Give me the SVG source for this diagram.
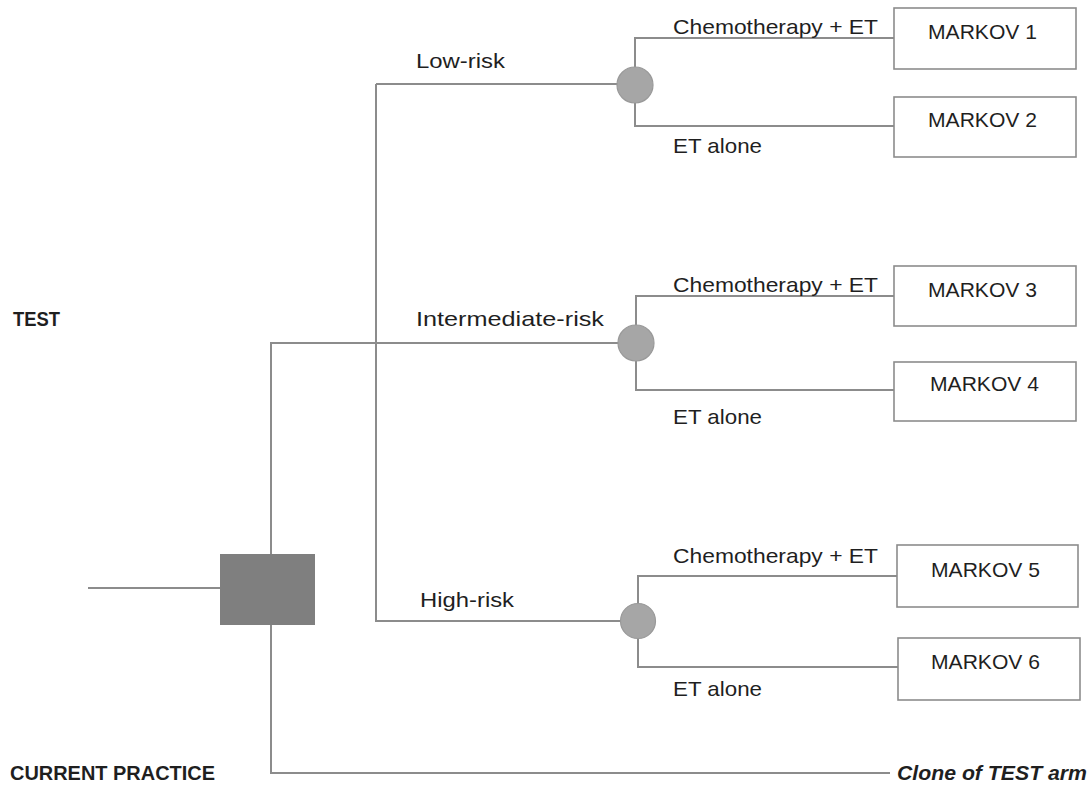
<svg xmlns="http://www.w3.org/2000/svg" width="1089" height="787" viewBox="0 0 1089 787">
<style>
.ln{stroke:#8c8c8c;stroke-width:2;fill:none}
.box{fill:#fff;stroke:#8c8c8c;stroke-width:1.6}
.chance{fill:#a6a6a6;stroke:#999;stroke-width:1.2}
text{font-family:"Liberation Sans",Arial,sans-serif;font-size:21px;fill:#1f1f1f}
.b{font-weight:bold}
.bi{font-weight:bold;font-style:italic}
</style>
<rect width="1089" height="787" fill="#fff"/>
<g id="connectors">
<path class="ln" d="M88 588H220"/>
<path class="ln" d="M271 554V343H620"/>
<path class="ln" d="M271 625V773H890"/>
<path class="ln" d="M376 84V621H620"/>
<path class="ln" d="M376 84H618"/>
<path class="ln" d="M635 67V38H894M635 103V126H894"/>
<path class="ln" d="M636 325V296H894M636 361V390H894"/>
<path class="ln" d="M638 603V576H897M638 639V667H898"/>
</g>
<g id="decision"><rect x="220" y="554" width="95" height="71" fill="#7f7f7f"/></g>
<g id="chance-low"><circle class="chance" cx="635" cy="85" r="18"/></g>
<g id="chance-int"><circle class="chance" cx="636" cy="343" r="18"/></g>
<g id="chance-high"><circle class="chance" cx="638" cy="621" r="17.5"/></g>
<g id="markov1"><rect class="box" x="894" y="8" width="182" height="61"/><text x="928" y="39" textLength="109" lengthAdjust="spacingAndGlyphs">MARKOV 1</text></g>
<g id="markov2"><rect class="box" x="894" y="97" width="182" height="60"/><text x="928" y="127" textLength="109" lengthAdjust="spacingAndGlyphs">MARKOV 2</text></g>
<g id="markov3"><rect class="box" x="894" y="266" width="182" height="60"/><text x="928" y="297" textLength="109" lengthAdjust="spacingAndGlyphs">MARKOV 3</text></g>
<g id="markov4"><rect class="box" x="894" y="362" width="182" height="59"/><text x="930" y="391" textLength="109" lengthAdjust="spacingAndGlyphs">MARKOV 4</text></g>
<g id="markov5"><rect class="box" x="897" y="545" width="181" height="62"/><text x="931" y="577" textLength="109" lengthAdjust="spacingAndGlyphs">MARKOV 5</text></g>
<g id="markov6"><rect class="box" x="898" y="638" width="182" height="62"/><text x="931" y="669" textLength="109" lengthAdjust="spacingAndGlyphs">MARKOV 6</text></g>
<g id="labels">
<text x="673" y="34" textLength="205" lengthAdjust="spacingAndGlyphs">Chemotherapy + ET</text>
<text x="673" y="153" textLength="89" lengthAdjust="spacingAndGlyphs">ET alone</text>
<text x="673" y="292" textLength="205" lengthAdjust="spacingAndGlyphs">Chemotherapy + ET</text>
<text x="673" y="424" textLength="89" lengthAdjust="spacingAndGlyphs">ET alone</text>
<text x="673" y="563" textLength="205" lengthAdjust="spacingAndGlyphs">Chemotherapy + ET</text>
<text x="673" y="696" textLength="89" lengthAdjust="spacingAndGlyphs">ET alone</text>
<text x="416" y="68" textLength="89" lengthAdjust="spacingAndGlyphs">Low-risk</text>
<text x="416" y="326" textLength="188" lengthAdjust="spacingAndGlyphs">Intermediate-risk</text>
<text x="420" y="607" textLength="94" lengthAdjust="spacingAndGlyphs">High-risk</text>
<text class="b" x="13" y="326" textLength="47" lengthAdjust="spacingAndGlyphs">TEST</text>
<text class="b" x="10" y="780" textLength="205" lengthAdjust="spacingAndGlyphs">CURRENT PRACTICE</text>
<text class="bi" x="897" y="780" textLength="190" lengthAdjust="spacingAndGlyphs">Clone of TEST arm</text>
</g>
</svg>
